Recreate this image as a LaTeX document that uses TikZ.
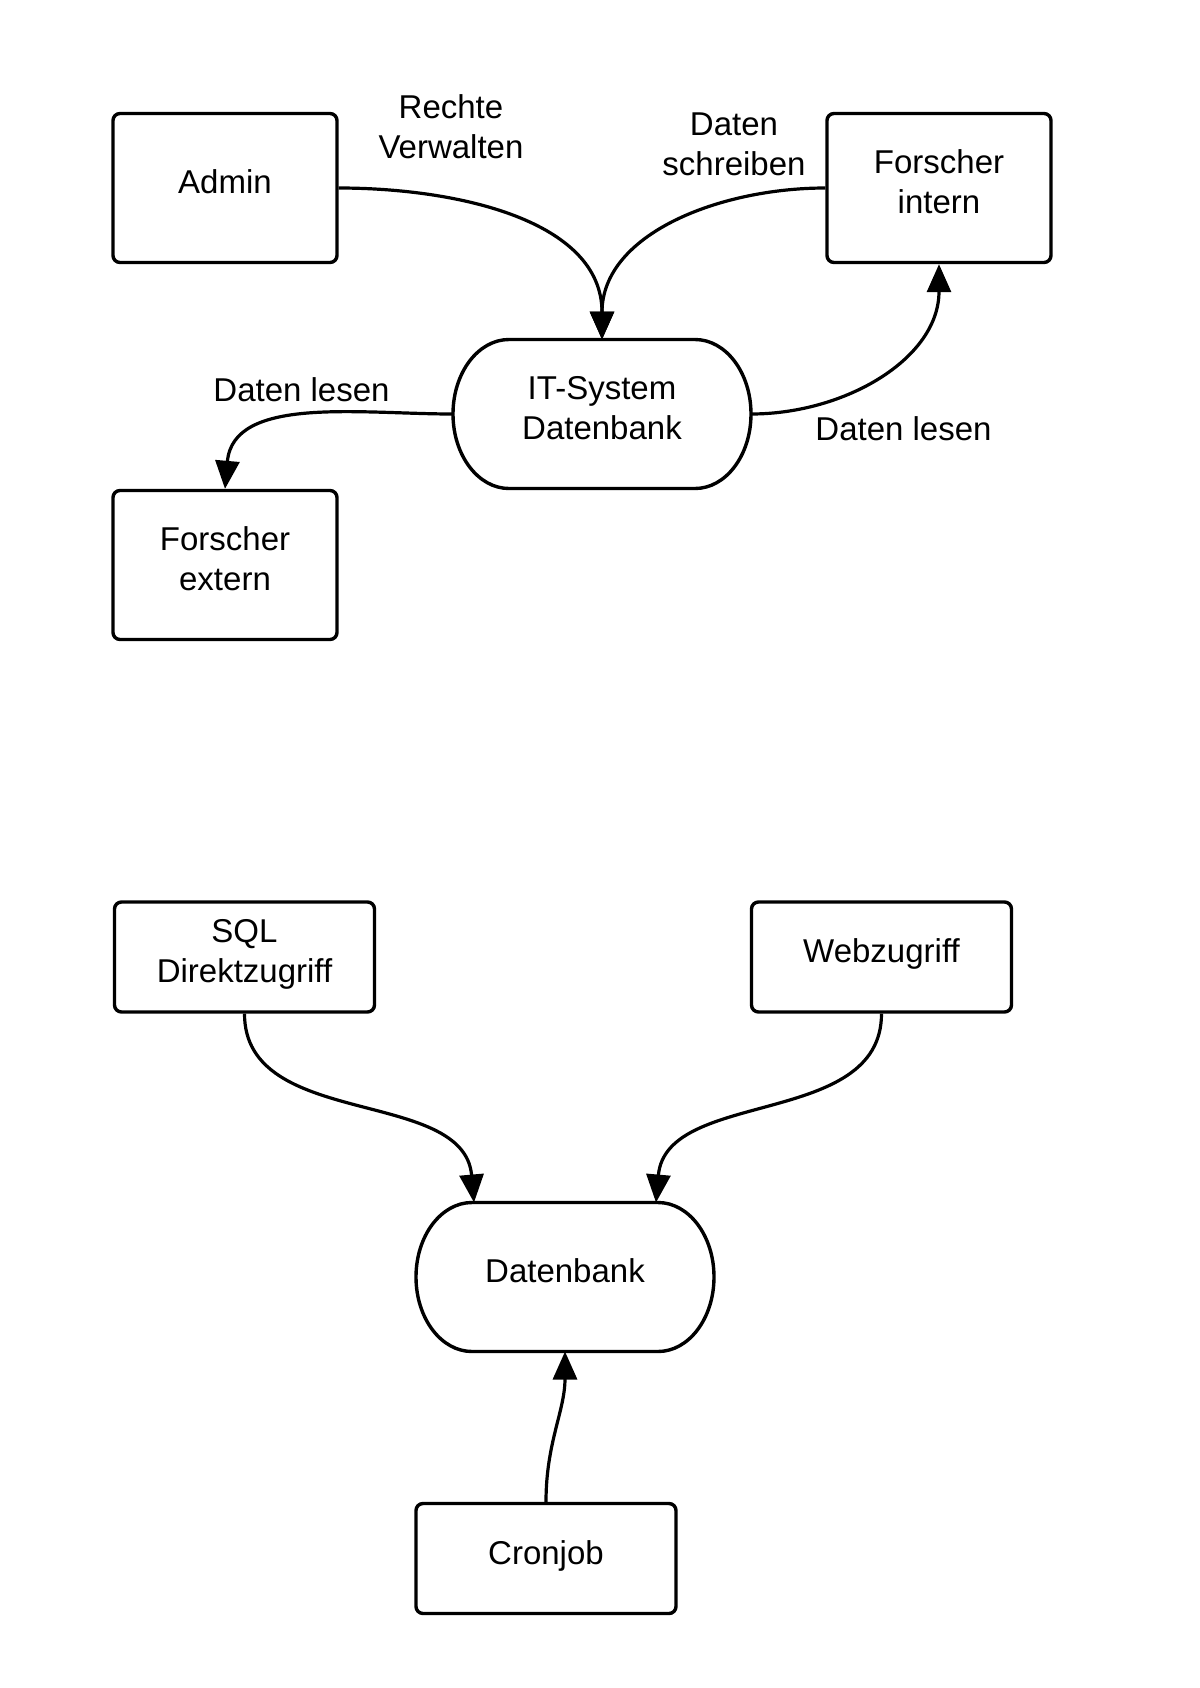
\documentclass[tikz,border=0pt]{standalone}
\usepackage{fontspec}
\setmainfont{Liberation Sans}
\usetikzlibrary{positioning, arrows.meta}

\tikzset{
  box/.style = {draw, line width=1.7pt, rounded corners=3.5pt, minimum width=112pt,
    minimum height=74.5pt, align=center, text depth=6pt},
  smallbox/.style = {box, minimum width=130pt, minimum height=55pt},
  store/.style = {line width=1.7pt, outer sep=0pt, minimum width=149pt,
    minimum height=74.5pt, align=center, text depth=6pt},
  lbl/.style = {align=center},
  flow/.style = {line width=1.6pt, -{Triangle[length=14pt, width=12pt]}}
}

% outline of a store node: flat top and bottom, elliptic sides
\newcommand{\storeoutline}[1]{%
  \draw[line width=1.7pt] ([xshift=28pt]#1.north west) -- ([xshift=-28pt]#1.north east)
    arc[start angle=90, end angle=-90, x radius=28pt, y radius=37.25pt]
    -- ([xshift=28pt]#1.south west)
    arc[start angle=270, end angle=90, x radius=28pt, y radius=37.25pt] -- cycle;}

\begin{document}
\begin{tikzpicture} [on grid, font=\fontsize{16.5}{20}\selectfont]

        \useasboundingbox (0,0) rectangle (600pt,-844pt);

        % upper diagram
        \node (admin) [box] at (112.5pt,-94pt) {Admin};
        \node (intern) [box, right = 357pt of admin] {Forscher\\intern};
        \node (it) [store, below right = 113pt and 188.5pt of admin] {IT-System\\Datenbank};
        \node (extern) [box, below = 188.5pt of admin] {Forscher\\extern};
        \storeoutline{it}

        \node (rechte) [lbl] at (225.5pt,-63.25pt) {Rechte\\Verwalten};
        \node (schreiben) [lbl] at (367pt,-72.25pt) {Daten\\schreiben};
        \node (lesenl) [lbl] at (150.75pt,-195pt) {Daten lesen};
        \node (lesenr) [lbl] at (451.75pt,-214.25pt) {Daten lesen};

        \draw[flow] (admin.east) to[out=0, in=90] (it.north);
        \draw[flow] (intern.west) to[out=180, in=90] (it.north);
        \draw[flow] (it.east) to[out=0, in=-90] (intern.south);
        \draw[flow] (it.west) to[out=180, in=85] (extern.north);

        % lower diagram
        \node (sql) [smallbox, below right = 384.5pt and 9.75pt of admin] {SQL\\Direktzugriff};
        \node (web) [smallbox, right = 318.5pt of sql] {Webzugriff};
        \node (db) [store, below right = 160pt and 160.25pt of sql] {Datenbank};
        \node (cron) [smallbox, below left = 140.75pt and 9.5pt of db] {Cronjob};
        \storeoutline{db}

        \draw[flow] (sql.south) to[out=-90, in=95] ([xshift=-45.5pt]db.north);
        \draw[flow] (web.south) to[out=-90, in=85] ([xshift=45.5pt]db.north);
        \draw[flow] (cron.north) to[out=90, in=-90] (db.south);

    \end{tikzpicture}
\end{document}
